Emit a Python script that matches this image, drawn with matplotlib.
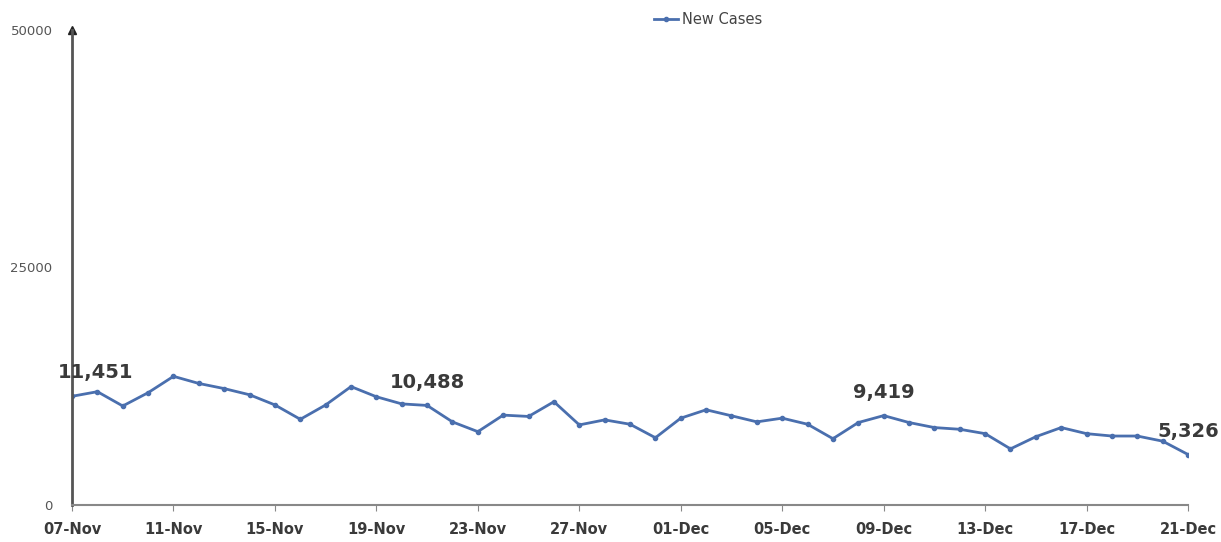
import matplotlib

matplotlib.use("Agg")
import matplotlib.pyplot as plt
import numpy as np
import pandas as pd

# daily new cases, 07-Nov to 21-Dec
dates = pd.date_range("2020-11-07", "2020-12-21", freq="D")
new_cases = [
    11451, 11935, 10430, 11830, 13550, 12800, 12260, 11610, 10540, 9030,
    10540, 12470, 11400, 10650, 10488, 8755, 7730, 9470, 9330, 10880,
    8440, 8970, 8510, 7090, 9150, 10030, 9400, 8760, 9150, 8510,
    6990, 8690, 9419, 8690, 8160, 7980, 7520, 5920, 7200, 8160,
    7520, 7270, 7270, 6730, 5326,
]
labelled_days = [0, 14, 32, 44]
tick_every = 4
y_ticks = [0, 25000, 50000]

line_color = "#4a6fae"
text_color = "#3a3a3a"

fig = plt.figure(figsize=(12.21, 5.42), dpi=100)
ax = fig.add_axes([0.059, 0.068, 0.914, 0.877])

x = np.arange(len(new_cases))
ax.plot(x, new_cases, color=line_color, linewidth=2, marker="o", markersize=3,
        label="New Cases")

# first label sits a bit right of its point so it clears the y axis
label_shift = {0: 17}
for i in labelled_days:
    ax.annotate(f"{new_cases[i]:,}", (x[i], new_cases[i]),
                xytext=(label_shift.get(i, 0), 10),
                textcoords="offset points", ha="center", va="bottom",
                fontsize=14, fontweight="bold", color=text_color)

ax.set_xlim(0, len(new_cases) - 1)
ax.set_ylim(0, 50000)
ax.set_xticks(x[::tick_every])
ax.set_xticklabels([d.strftime("%d-%b") for d in dates[::tick_every]],
                   fontsize=10.5, fontweight="bold", color=text_color)
ax.set_yticks(y_ticks)
ax.set_yticklabels([str(v) for v in y_ticks], fontsize=9.5, color="#555555")

ax.spines["top"].set_visible(False)
ax.spines["right"].set_visible(False)
ax.spines["left"].set_color("#555555")
ax.spines["left"].set_linewidth(2)
ax.spines["bottom"].set_color("#888888")
ax.spines["bottom"].set_linewidth(1.5)
ax.tick_params(axis="y", length=0, pad=14)
ax.tick_params(axis="x", length=4, color="#888888", pad=8)
ax.plot([0], [1], marker="^", color="#222222", markersize=6,
        transform=ax.transAxes, clip_on=False)

ax.legend(loc="upper center", bbox_to_anchor=(0.57, 1.065), frameon=False,
          fontsize=10.5, handlelength=1.6, handletextpad=0.3,
          labelcolor="#444444")

fig.savefig("out.png", dpi=100)
